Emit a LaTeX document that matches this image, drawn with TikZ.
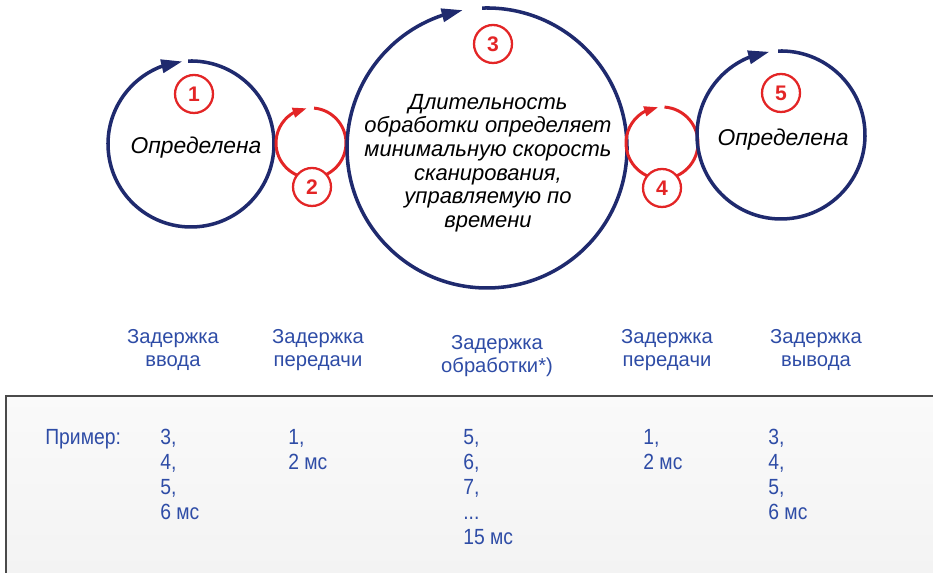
\documentclass[tikz,border=0pt]{standalone}
\usepackage{fontspec}
\setmainfont{Liberation Sans}
\newfontfamily\narrowsans[FakeStretch=0.88]{Liberation Sans}
\usetikzlibrary{arrows.meta,bending}
\definecolor{cNavy}{HTML}{1F2A6E}
\definecolor{cRed}{HTML}{E32526}
\definecolor{cBlue}{HTML}{2E4CA6}
\definecolor{cFrame}{HTML}{4A4A4A}

\begin{document}
\begin{tikzpicture}[
  x=0.02cm, y=0.02cm,
  ring/.style={draw=cNavy, line width=2pt,
    -{Triangle[length=12pt,width=7.5pt]}},
  redring/.style={draw=cRed, line width=1.7pt,
    -{Triangle[length=8pt,width=5.5pt]}},
  num/.style={circle, draw=cRed, fill=white, line width=1.3pt,
    minimum size=0.76cm, inner sep=0pt, text=cRed,
    font=\fontsize{12}{12}\selectfont\bfseries},
  phase/.style={align=center, inner sep=0pt,
    font=\fontsize{12.5}{13.4}\selectfont\itshape},
  delay/.style={align=center, inner sep=0pt, text=cBlue,
    font=\fontsize{11.5}{12.6}\selectfont},
  ex/.style={align=left, anchor=north west, inner sep=0pt, text=cBlue,
    font=\narrowsans\fontsize{12.5}{14.2}\selectfont},
]
\useasboundingbox (0,0) rectangle (933,573);
\clip (0,0) rectangle (933,573);
% Centres of the cycles
\coordinate (c1) at (191,429);
\coordinate (c2) at (311,430);
\coordinate (c3) at (487,425);
\coordinate (c4) at (662,430);
\coordinate (c5) at (781,438);
% Cycles
\draw[ring]    ([shift={(92:83)}]c1)  arc[start angle=92, end angle=-264, radius=83];
\draw[redring] ([shift={(85:35)}]c2)  arc[start angle=85, end angle=-263, radius=35];
\draw[ring]    ([shift={(92:140)}]c3) arc[start angle=92, end angle=-260, radius=140];
\draw[redring] ([shift={(86:36)}]c4)  arc[start angle=86, end angle=-264, radius=36];
\draw[ring]    ([shift={(92:84)}]c5)  arc[start angle=92, end angle=-262, radius=84];
% Numbers
\node[num] (n1) at (194,479) {1};
\node[num] (n2) at (312,386) {2};
\node[num] (n3) at (493,529) {3};
\node[num] (n4) at (662,385) {4};
\node[num] (n5) at (781,480) {5};
% Texts in the cycles
\node[phase, font=\fontsize{13}{14}\selectfont\itshape] (t1) at (196,425) {Определена};
\node[phase] (t3) at (488,410) {Длительность\\обработки определяет\\минимальную скорость\\сканирования,\\управляемую по\\времени};
\node[phase, font=\fontsize{13}{14}\selectfont\itshape] (t5) at (783,433) {Определена};
% Delays
\node[delay] (d1) at (173,223) {Задержка\\ввода};
\node[delay] (d2) at (318,223) {Задержка\\передачи};
\node[delay] (d3) at (497,217) {Задержка\\обработки*)};
\node[delay] (d4) at (667,223) {Задержка\\передачи};
\node[delay] (d5) at (816,223) {Задержка\\вывода};
% Example box
\shade[top color=black!2, bottom color=black!5]
  (6,-20) rectangle (950,177);
\draw[cFrame, line width=1.4pt] (6,-20) -- (6,177) -- (950,177);
\node[ex] (ex0) at (45,144)  {Пример:};
\node[ex] (ex1) at (160,144) {3,\\4,\\5,\\6 мс};
\node[ex] (ex2) at (288,144) {1,\\2 мс};
\node[ex] (ex3) at (463,144) {5,\\6,\\7,\\...\\15 мс};
\node[ex] (ex4) at (643,144) {1,\\2 мс};
\node[ex] (ex5) at (768,144) {3,\\4,\\5,\\6 мс};
\end{tikzpicture}
\end{document}
